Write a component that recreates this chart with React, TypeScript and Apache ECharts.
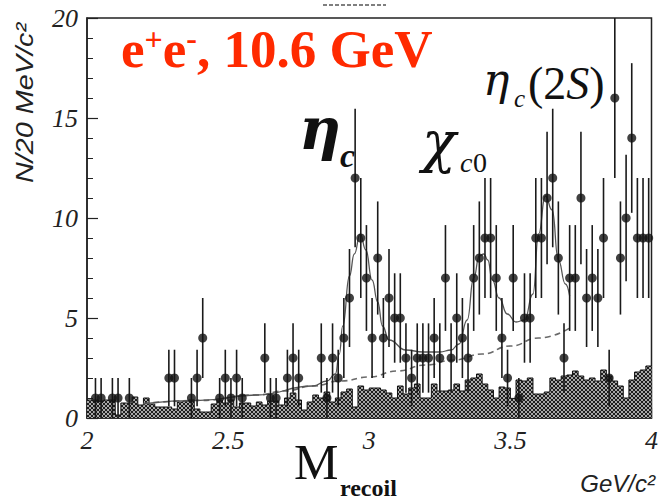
import React, { useEffect, useRef } from "react";
import * as echarts from "echarts";

// ---- axes ----
const massMin = 2.0;
const massMax = 4.0;
const binWidth = 0.02;
const countMax = 20;

// ---- MC background histogram (100 bins of 20 MeV, 2.0-4.0 GeV) ----
const mcHistogram = [
  0.9, 0.9, 0.85, 0.9, 0.9, 0.15, 0.75, 0.75, 1.05, 0.65,
  1.0, 0.7, 0.55, 0.55, 0.55, 0.45, 0.8, 0.85, 0.9, 0.45,
  0.3, 0.3, 0.7, 0.9, 0.75, 0.9, 0.55, 0.75, 0.75, 0.6,
  0.8, 0.65, 0.85, 0.85, 0.65, 1.0, 1.25, 0.9, 0.4, 0.8,
  1.15, 1.0, 1.3, 0.8, 1.0, 1.3, 1.45, 0.55, 1.6, 1.4,
  1.5, 1.5, 1.4, 1.25, 1.0, 1.6, 1.2, 1.5, 1.7, 1.0,
  1.0, 1.7, 1.35, 1.35, 1.4, 1.7, 1.35, 1.9, 2.0, 2.2,
  1.7, 1.4, 1.0, 1.55, 1.5, 0.98, 1.9, 1.85, 2.0, 1.2,
  1.2, 1.3, 2.0, 1.9, 2.1, 2.15, 2.35, 2.1, 1.9, 2.0,
  1.85, 2.4, 2.1, 1.85, 1.6, 1.0, 1.9, 2.3, 2.4, 2.6,
];

// ---- data points: bin index and entries ----
const pointBins = [
  1, 2, 4, 5, 7, 14, 15, 18, 19, 20, 23, 24, 25, 26, 27, 31, 32, 33, 35, 36, 37,
  41, 42, 43, 44, 45, 46, 47, 48, 49, 50,
  51, 52, 53, 54, 55, 56, 57, 58, 59, 60,
  61, 62, 63, 64, 65, 66, 67, 68, 69, 70,
  71, 72, 73, 74, 75, 76, 77, 78, 79, 80,
  81, 82, 83, 84, 85, 86, 87, 88, 89, 90,
  91, 92, 93, 94, 95, 96, 97, 98, 99,
];
const pointCounts = [
  1, 1, 1, 1, 1, 2, 2, 1, 2, 4, 1, 2, 1, 2, 1, 3, 1, 1, 2, 3, 2,
  3, 1, 3, 2, 4, 6, 12, 9, 7, 4,
  8, 4, 6, 5, 5, 3, 2, 3, 3, 3,
  4, 3, 7, 3, 5, 4, 3, 7, 8, 9,
  9, 7, 4, 2, 7, 1, 5, 5, 9, 9,
  11, 12, 8, 3, 7, 7, 11, 6, 7, 6,
  9, 2, 16, 8, 10, 14, 9, 9, 9,
];

// ---- fit curves ----
const bgMass = [2.2, 2.4, 2.6, 2.7, 2.8, 2.9, 3.0, 3.1, 3.2, 3.3, 3.4, 3.5, 3.6, 3.71];
const bgLevel = [0.72, 0.88, 1.15, 1.35, 1.6, 1.85, 2.05, 2.35, 2.65, 2.9, 3.2, 3.6, 4.0, 4.5];

const fitMass = [
  2.2, 2.4, 2.6, 2.8, 2.85, 2.88, 2.894, 2.906, 2.93, 2.947, 2.968, 2.988, 3.01, 3.03,
  3.047, 3.07, 3.13, 3.19, 3.25, 3.29, 3.318, 3.347, 3.37, 3.39, 3.406, 3.42, 3.436,
  3.46, 3.489, 3.52, 3.55, 3.58, 3.6, 3.624, 3.648, 3.67, 3.695, 3.71,
];
const fitLevel = [
  0.72, 0.88, 1.15, 1.6, 1.85, 2.2, 3.2, 4.6, 7.1, 8.2, 9.2, 8.4, 6.9, 5.8,
  4.6, 3.9, 3.4, 3.3, 3.3, 3.4, 3.7, 4.9, 7.0, 8.1, 8.2, 7.9, 6.9,
  6.0, 5.2, 4.8, 4.9, 6.2, 9.2, 11.1, 10.4, 7.9, 6.7, 6.1,
];

const SERIF = "'Liberation Serif', 'Times New Roman', serif";
const GREEK = "'DejaVu Serif', serif";
const SANS = "'Liberation Sans', Arial, sans-serif";

function makePattern(): HTMLCanvasElement {
  const c = document.createElement("canvas");
  c.width = 4;
  c.height = 4;
  const ctx = c.getContext("2d")!;
  ctx.fillStyle = "#a8a8a8";
  ctx.fillRect(0, 0, 4, 4);
  ctx.fillStyle = "#1e1e1e";
  for (let i = 0; i < 4; i++) {
    ctx.fillRect(i, i, 1, 1);
    ctx.fillRect(3 - i, i, 1, 1);
  }
  return c;
}

function txt(
  x: number,
  y: number,
  text: string,
  font: { size: number; family: string; style?: string; weight?: string },
  extra: any = {}
) {
  const { align = "left", fill = "#111", rotation, scaleX, scaleY } = extra;
  const el: any = {
    type: "text",
    x,
    y,
    z: 100,
    style: {
      text,
      fill,
      fontSize: font.size,
      fontFamily: font.family,
      fontStyle: font.style || "normal",
      fontWeight: font.weight || "normal",
      align,
      textAlign: align,
      verticalAlign: "middle",
      textVerticalAlign: "middle",
    },
  };
  if (rotation !== undefined) el.rotation = rotation;
  if (scaleX !== undefined) el.scaleX = scaleX;
  if (scaleY !== undefined) el.scaleY = scaleY;
  return el;
}

export default function App() {
  const ref = useRef<HTMLDivElement>(null);

  useEffect(() => {
    if (!ref.current) return;
    const chart = echarts.init(ref.current, undefined, { renderer: "svg" });

    const histData: number[][] = mcHistogram.map((h, i) => [massMin + binWidth * i, h]);
    histData.push([massMax, mcHistogram[mcHistogram.length - 1]]);
    const pointData = pointBins.map((b, i) => [massMin + binWidth * (b + 0.5), pointCounts[i]]);
    const bgData = bgMass.map((m, i) => [m, bgLevel[i]]);
    const fitData = fitMass.map((m, i) => [m, fitLevel[i]]);

    const pattern = makePattern();
    const red = "#ff2a00";
    const titleFont = { size: 53, family: SERIF, weight: "bold" };
    const supFont = { size: 32, family: SERIF, weight: "bold" };

    chart.setOption({
      animation: false,
      grid: {
        left: 87,
        right: 8,
        top: 18,
        bottom: 82,
        show: true,
        borderColor: "#222",
        borderWidth: 1.5,
        backgroundColor: "transparent",
      },
      xAxis: {
        type: "value",
        min: massMin,
        max: massMax,
        interval: 0.5,
        axisLine: { show: true, lineStyle: { color: "#222", width: 1.5 } },
        axisTick: { show: true, inside: true, length: 10, lineStyle: { color: "#222", width: 1.2 } },
        minorTick: { show: true, splitNumber: 5, length: 5, lineStyle: { color: "#222", width: 1 } },
        splitLine: { show: false },
        axisLabel: {
          show: true,
          margin: 9,
          color: "#222",
          fontSize: 26,
          fontFamily: SERIF,
          fontStyle: "italic",
          formatter: (v: number) => String(v),
        },
      },
      yAxis: {
        type: "value",
        min: 0,
        max: countMax,
        interval: 5,
        axisLine: { show: true, lineStyle: { color: "#222", width: 1.5 } },
        axisTick: { show: true, inside: true, length: 11, lineStyle: { color: "#222", width: 1.2 } },
        minorTick: { show: true, splitNumber: 5, length: 6, lineStyle: { color: "#222", width: 1 } },
        splitLine: { show: false },
        axisLabel: {
          show: true,
          margin: 9,
          color: "#222",
          fontSize: 26,
          fontFamily: SERIF,
          fontStyle: "italic",
        },
      },
      series: [
        {
          type: "line",
          name: "MC",
          data: histData,
          step: "end",
          symbol: "none",
          z: 1,
          lineStyle: { color: "#111", width: 1 },
          areaStyle: { color: { image: pattern, repeat: "repeat" }, opacity: 1 },
        },
        {
          type: "line",
          name: "background",
          data: bgData,
          smooth: true,
          smoothMonotone: "x",
          symbol: "none",
          z: 2,
          lineStyle: { color: "#6a6a6a", width: 1.6, type: [6, 4] },
        },
        {
          type: "line",
          name: "fit",
          data: fitData,
          smooth: true,
          smoothMonotone: "x",
          symbol: "none",
          z: 3,
          lineStyle: { color: "#555", width: 1.3 },
        },
        {
          type: "custom",
          name: "errors",
          data: pointData,
          z: 4,
          clip: true,
          encode: { x: 0, y: 1 },
          renderItem: (_p: any, api: any) => {
            const x = api.value(0);
            const v = api.value(1);
            const e = Math.sqrt(v);
            const lo = api.coord([x, Math.max(0, v - e)]);
            const hi = api.coord([x, Math.min(countMax, v + e)]);
            return {
              type: "line",
              shape: { x1: lo[0], y1: lo[1], x2: hi[0], y2: hi[1] },
              style: { stroke: "#1a1a1a", lineWidth: 1.6 },
            };
          },
        },
        {
          type: "scatter",
          name: "data",
          data: pointData,
          symbol: "circle",
          symbolSize: 9,
          z: 5,
          itemStyle: { color: "#111" },
        },
      ],
      graphic: [
        // title
        txt(121, 49, "e", titleFont, { fill: red }),
        txt(144.5, 39, "+", supFont, { fill: red }),
        txt(162.7, 49, "e", titleFont, { fill: red }),
        txt(186.2, 38, "-", supFont, { fill: red }),
        txt(197, 49, ", 10.6 GeV", titleFont, { fill: red }),
        // eta_c
        txt(299, 128.5, "η", { size: 58, family: GREEK, style: "italic", weight: "bold" }),
        txt(340, 155.4, "c", { size: 34, family: SERIF, style: "italic", weight: "bold" }),
        // chi_c0
        txt(422, 141, "χ", { size: 56, family: GREEK, style: "italic" }),
        txt(460, 162.5, "c", { size: 28, family: SERIF, style: "italic" }),
        txt(473, 162.5, "0", { size: 28, family: SERIF }),
        // eta_c(2S)
        txt(483, 79.8, "η", { size: 44, family: GREEK, style: "italic" }),
        txt(514, 98.5, "c", { size: 25, family: SERIF, style: "italic" }),
        txt(528, 83.4, "(2", { size: 46, family: SERIF }),
        txt(566.3, 83.4, "S", { size: 46, family: SERIF, style: "italic" }),
        txt(589.3, 83.4, ")", { size: 46, family: SERIF }),
        // axis names
        txt(25, 103, "N/20 MeV/c²", { size: 24, family: SANS, style: "italic" }, {
          align: "center",
          rotation: Math.PI / 2,
          scaleX: 1.2,
          fill: "#222",
        }),
        txt(294, 462, "M", { size: 50, family: SERIF }),
        txt(340, 488, "recoil", { size: 24, family: SERIF, weight: "bold" }),
        txt(655, 483.6, "GeV/c²", { size: 24, family: SANS, style: "italic" }, { align: "right", fill: "#222" }),
        // cut-off mark at the top
        {
          type: "line",
          z: 100,
          shape: { x1: 323, y1: 5, x2: 386, y2: 5 },
          style: { stroke: "#555", lineWidth: 1.5, lineDash: [4, 2] },
        },
      ],
    });

    return () => chart.dispose();
  }, []);

  return (
    <div
      ref={ref}
      style={{ position: "fixed", left: 0, top: 0, width: 661, height: 500, background: "#fff" }}
    />
  );
}
